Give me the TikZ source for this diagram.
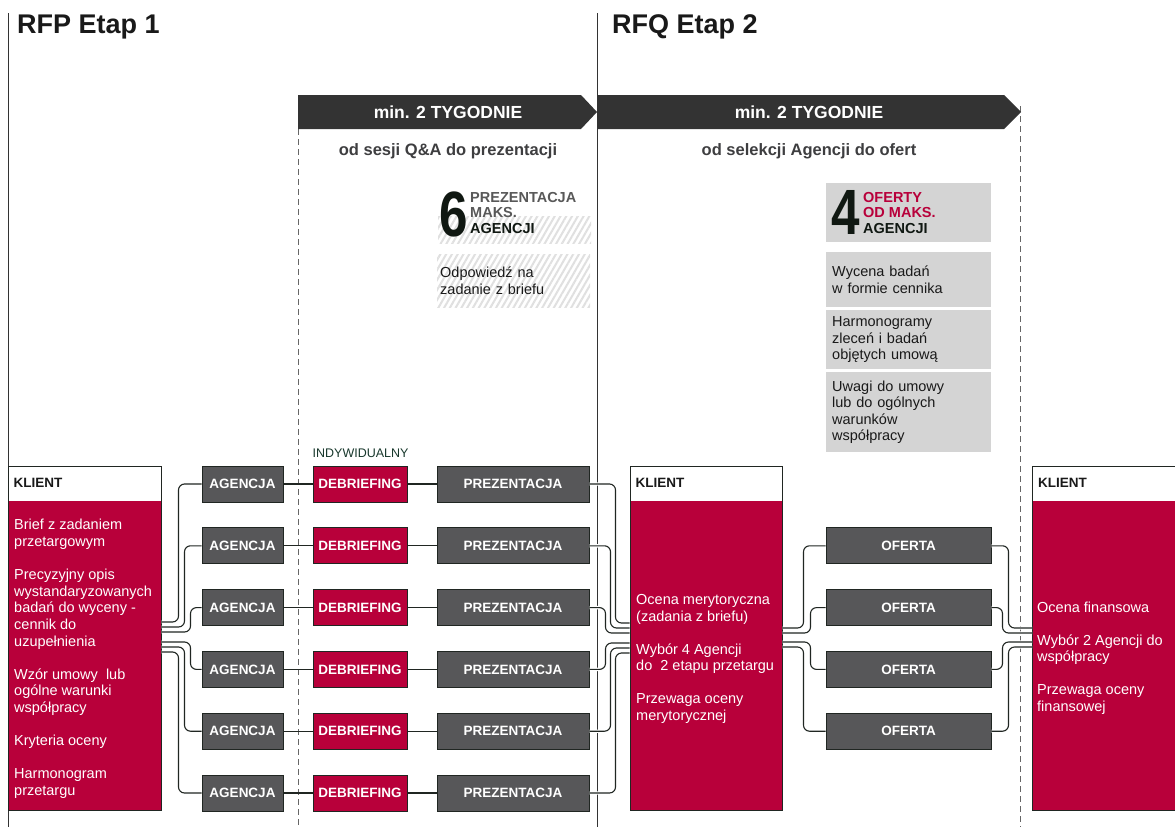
\documentclass[tikz,border=0pt]{standalone}
\usepackage{fontspec}
\setmainfont{Liberation Sans}
\usetikzlibrary{patterns.meta}

\definecolor{crimson}{RGB}{184,0,58}
\definecolor{boxgray}{RGB}{87,87,89}
\definecolor{boxline}{RGB}{32,38,34}
\definecolor{bandgray}{RGB}{51,51,51}
\definecolor{panelgray}{RGB}{212,212,212}
\definecolor{subgray}{RGB}{62,62,64}
\definecolor{labelgray}{RGB}{88,88,88}
\definecolor{numblack}{RGB}{16,24,18}
\definecolor{darkgreen}{RGB}{24,56,44}

\tikzset{
  box/.style={draw=boxline, line width=1pt, minimum height=36pt, inner sep=0pt, text=white,
    font=\bfseries\fontsize{13.5}{16}\selectfont},
  agbox/.style={box, fill=boxgray, minimum width=81pt},
  debox/.style={box, fill=crimson, minimum width=94pt},
  prbox/.style={box, fill=boxgray, minimum width=152pt},
  ofbox/.style={box, fill=boxgray, minimum width=165pt},
  kbox/.style={draw=boxline, line width=1pt, fill=crimson, minimum height=344pt, inner sep=0pt,
    path picture={\fill[white] (path picture bounding box.north west)
      rectangle ([yshift=-35pt]path picture bounding box.north east);}},
  klabel/.style={anchor=west, inner sep=0pt, text=black!90, font=\bfseries\fontsize{13.5}{16}\selectfont},
  ktext/.style={anchor=north west, inner sep=0pt, align=left, text=white, font=\fontsize{14.5}{16.7}\selectfont},
  link/.style={draw=boxline, line width=1.1pt},
  wire/.style={link, rounded corners=6pt, preaction={draw=white, line width=3.4pt}},
  divider/.style={draw=black!80, line width=1pt},
  dashdiv/.style={draw=black!60, line width=1pt, dash pattern=on 6pt off 4pt},
  title/.style={anchor=west, inner sep=0pt, text=black!90, font=\bfseries\fontsize{27}{30}\selectfont},
  bandtext/.style={text=white, font=\bfseries\fontsize{17.5}{20}\selectfont},
  subtitle/.style={text=subgray, font=\bfseries\fontsize{16.5}{19}\selectfont},
  hatch/.style={anchor=north west, minimum width=153pt, inner xsep=3pt, inner ysep=0pt,
    pattern={Lines[angle=60, distance=5pt, line width=2pt]}, pattern color=black!12},
  panel/.style={anchor=north west, fill=panelgray, minimum width=165pt, text width=153pt,
    inner xsep=6pt, inner ysep=0pt, align=left, text=black!90, font=\fontsize{14.5}{16.3}\selectfont},
  bignum/.style={anchor=south west, inner sep=0pt, text=numblack, font=\bfseries\fontsize{64}{64}\selectfont},
  numlabel/.style={anchor=north west, inner sep=0pt, align=left, font=\bfseries\fontsize{14.5}{15.5}\selectfont}
}

\begin{document}
\begin{tikzpicture}[x=1pt, y=-1pt]
  \useasboundingbox (0,0) rectangle (1175,827);
  \fill[white] (0,0) rectangle (1175,827);

  % stage borders
  \draw[divider] (8,13) -- (8,827);
  \draw[divider] (597,13) -- (597,827);
  \draw[dashdiv] (298,129) -- (298,827);
  \draw[dashdiv] (1020,106) -- (1020,827);

  \node[title] (etap1) at (17,27) {RFP Etap 1};
  \node[title] (etap2) at (612,27) {RFQ Etap 2};

  % time bands
  \fill[bandgray] (298,95) -- (581,95) -- (597,112) -- (581,129) -- (298,129) -- cycle;
  \fill[bandgray] (597,95) -- (1004,95) -- (1021,112) -- (1004,129) -- (597,129) -- cycle;
  \node[bandtext] (czas1) at (448,112) {min. 2 TYGODNIE};
  \node[bandtext] (czas2) at (809,112) {min. 2 TYGODNIE};
  \node[subtitle] (okres1) at (448,151) {od sesji Q\&A do prezentacji};
  \node[subtitle] (okres2) at (809,151) {od selekcji Agencji do ofert};

  % limits of stage 1
  \node[hatch, minimum height=27pt] (pasy) at (437,215) {};
  \node[hatch, minimum height=53pt, text width=147pt, align=left, text=black!90,
    font=\fontsize{14.5}{17.5}\selectfont] (odpowiedz) at (437,254) {Odpowiedź na\\zadanie z briefu};
  \node[bignum] (num6) at (439,237) {\scalebox{0.8}[1]{6}};
  \node[numlabel] (limit6) at (470,192)
    {\textcolor{labelgray}{PREZENTACJA}\\\textcolor{labelgray}{MAKS.}\\\textcolor{numblack}{AGENCJI}};

  % limits of stage 2
  \node[panel, minimum height=59pt] (naglowek) at (826,183) {};
  \node[bignum] (num4) at (831,235) {\scalebox{0.8}[1]{4}};
  \node[numlabel] (limit4) at (863,192)
    {\textcolor{crimson}{OFERTY}\\\textcolor{crimson}{OD MAKS.}\\\textcolor{numblack}{AGENCJI}};
  \node[panel, minimum height=55pt] (wycena) at (826,252) {Wycena badań\\w formie cennika};
  \node[panel, minimum height=59pt] (harmonogram) at (826,310) {Harmonogramy\\zleceń i badań\\objętych umową};
  \node[panel, minimum height=80pt] (uwagi) at (826,372) {Uwagi do umowy\\lub do ogólnych\\warunków\\współpracy};

  % client boxes
  \node[kbox, minimum width=153pt] (klient1) at (84.5,638) {};
  \node[kbox, minimum width=152pt] (klient2) at (706,638) {};
  \node[kbox, minimum width=150pt, anchor=west] (klient3) at (1032,638) {};
  \foreach \k in {1,2,3}
    \node[klabel] at ([xshift=6pt, yshift=-17.5pt]klient\k.north west) {KLIENT};

  \node[ktext] (brief) at (14,519) {Brief z zadaniem\\przetargowym\\[16.3pt]
    Precyzyjny opis\\wystandaryzowanych\\badań do wyceny -\\cennik do\\uzupełnienia\\[16.3pt]
    Wzór umowy\ \ lub\\ogólne warunki\\współpracy\\[16.3pt]
    Kryteria oceny\\[16.3pt]
    Harmonogram\\przetargu};
  \node[ktext] (ocena1) at (636,594) {Ocena merytoryczna\\(zadania z briefu)\\[16.3pt]
    Wybór 4 Agencji\\do\ \ 2 etapu przetargu\\[16.3pt]
    Przewaga oceny\\merytorycznej};
  \node[ktext] (ocena2) at (1037,601.5) {Ocena finansowa\\[16.3pt]
    Wybór 2 Agencji do\\współpracy\\[16.3pt]
    Przewaga oceny\\finansowej};

  % agencies
  \foreach \i in {1,...,6} {
    \pgfmathsetmacro\ry{484+61.8*(\i-1)}
    \node[agbox] (agencja\i) at (242.5,\ry) {AGENCJA};
    \node[debox] (debrief\i) at (360,\ry) {DEBRIEFING};
    \node[prbox] (prez\i) at (513,\ry) {PREZENTACJA};
    \draw[link] (agencja\i) -- (debrief\i);
    \draw[link] (debrief\i) -- (prez\i);
  }
  \node[anchor=base west, inner sep=0pt, text=darkgreen, font=\fontsize{12.5}{14}\selectfont]
    (indywidualny) at ([yshift=8pt]debrief1.north west) {INDYWIDUALNY};

  \foreach \i in {1,...,4} {
    \pgfmathsetmacro\ry{484+61.8*\i}
    \node[ofbox] (oferta\i) at (908.5,\ry) {OFERTA};
  }

  % wiring
  \foreach \i/\dy/\dx in {1/16/17, 2/11/23, 3/6/29, 4/-4/29, 5/-9/23, 6/-14/17}
    \draw[wire] ([yshift=\dy pt]klient1.east) -- ++(\dx,0) |- (agencja\i.west);
  \foreach \i/\dx/\dy in {1/26/15, 2/21/10, 3/16/5, 4/16/-5, 5/21/-10, 6/26/-15}
    \draw[wire] (prez\i.east) -- ++(\dx,0) |- ([yshift=\dy pt]klient2.west);
  \foreach \i/\dy/\dx in {1/10/21, 2/5/28, 3/-4/28, 4/-9/21}
    \draw[wire] ([yshift=\dy pt]klient2.east) -- ++(\dx,0) |- (oferta\i.west);
  \foreach \i/\dx/\dy in {1/17/10, 2/11/5, 3/11/-4, 4/17/-9}
    \draw[wire] (oferta\i.east) -- ++(\dx,0) |- ([yshift=\dy pt]klient3.west);
\end{tikzpicture}
\end{document}
